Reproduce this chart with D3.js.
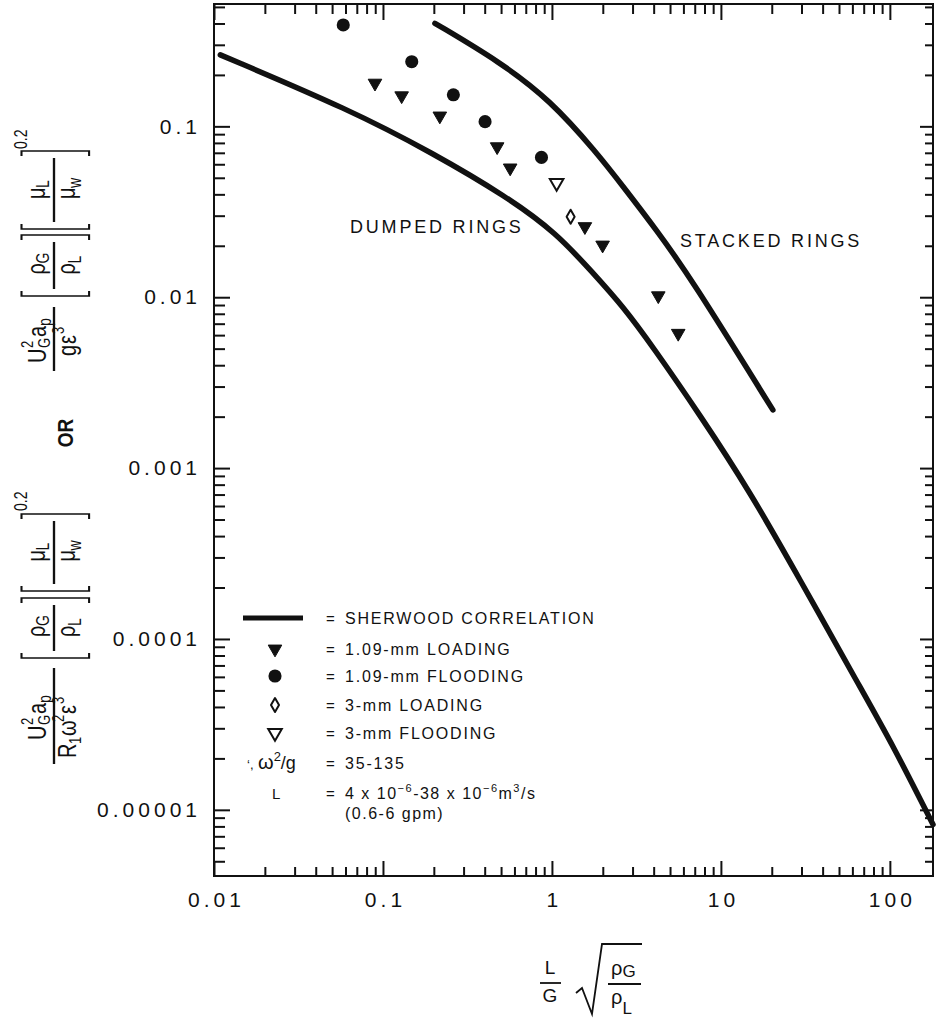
<!DOCTYPE html>
<html>
<head>
<meta charset="utf-8">
<script src="https://cdn.jsdelivr.net/npm/d3@7"></script>
<style>
  body { margin: 0; background: #fff; }
  text { font-family: 'Liberation Sans', Arial, sans-serif; fill: #111; }
</style>
</head>
<body>
<script>
var xTickValues = [0.01, 0.1, 1, 10, 100],
    xTickLabels = ['0.01', '0.1', '1', '10', '100'],
    yTickValues = [0.1, 0.01, 0.001, 0.0001, 0.00001],
    yTickLabels = ['0.1', '0.01', '0.001', '0.0001', '0.00001'];

// Sherwood correlation
var dumpedX = [0.0109, 0.0638, 0.198, 0.540, 1.066, 1.756, 2.64, 3.96, 7.51, 14.9, 29.4, 66.5, 104, 180],
    dumpedY = [0.262, 0.125, 0.0696, 0.0388, 0.0237, 0.0138, 0.00881, 0.00512, 0.00205, 0.000725, 0.000222, 0.0000524, 0.0000240, 0.0000082];
var stackedX = [0.203, 0.493, 0.973, 1.85, 2.64, 4.16, 6.56, 20.3],
    stackedY = [0.401, 0.238, 0.143, 0.0698, 0.0444, 0.0247, 0.0132, 0.00219];

// measured points
var load109X = [0.0897, 0.129, 0.217, 0.474, 0.566, 1.567, 1.995, 4.26, 5.59],
    load109Y = [0.179, 0.151, 0.115, 0.076, 0.0571, 0.0259, 0.0202, 0.0102, 0.00615];
var flood109X = [0.0582, 0.148, 0.261, 0.402, 0.867],
    flood109Y = [0.392, 0.239, 0.153, 0.1065, 0.0658];
var load3X = [1.29], load3Y = [0.0296];
var flood3X = [1.066], flood3Y = [0.0466];

var legendLabels = ['SHERWOOD CORRELATION', '1.09-mm LOADING', '1.09-mm FLOODING', '3-mm LOADING', '3-mm FLOODING'];

var W = 937, H = 1024,
    INK = '#111';

var svg = d3.select('body').append('svg')
    .attr('width', W)
    .attr('height', H);

var x = d3.scaleLog().domain([0.01, 180]).range([214, 933]),
    y = d3.scaleLog().domain([0.52, 0.0000041]).range([4, 876]);

function zip(a, b) { return a.map(function(d, i) { return [d, b[i]]; }); }

function minorTicks(scale) {
  return scale.ticks().filter(function(d) {
    var l = Math.log10(d);
    return Math.abs(l - Math.round(l)) > 1e-6;
  });
}

function styleAxis(g) {
  g.select('.domain').remove();
  g.selectAll('.tick line').attr('stroke', INK).attr('stroke-width', 2);
  g.attr('font-family', null).attr('font-size', null);
  g.selectAll('.tick text')
    .attr('fill', INK)
    .style('font-size', '21px')
    .style('letter-spacing', '4px');
}

// frame
svg.append('rect')
    .attr('x', 214).attr('y', 4)
    .attr('width', 719).attr('height', 872)
    .attr('fill', 'none')
    .attr('stroke', INK)
    .attr('stroke-width', 2);

// bottom
svg.append('g').attr('transform', 'translate(0,876)')
    .call(d3.axisBottom(x).tickValues(minorTicks(x)).tickSize(-9).tickFormat(''))
    .call(styleAxis);
svg.append('g').attr('transform', 'translate(0,876)')
    .call(d3.axisBottom(x).tickValues(xTickValues).tickSize(-15).tickPadding(16)
      .tickFormat(function(d, i) { return xTickLabels[i]; }))
    .call(styleAxis)
    .selectAll('.tick text').attr('dx', 2);
// top
svg.append('g').attr('transform', 'translate(0,4)')
    .call(d3.axisTop(x).tickValues(minorTicks(x)).tickSize(-10).tickFormat(''))
    .call(styleAxis);
svg.append('g').attr('transform', 'translate(0,4)')
    .call(d3.axisTop(x).tickValues(xTickValues).tickSize(-16).tickFormat(''))
    .call(styleAxis);
// left
svg.append('g').attr('transform', 'translate(214,0)')
    .call(d3.axisLeft(y).tickValues(minorTicks(y)).tickSize(-11).tickFormat(''))
    .call(styleAxis);
svg.append('g').attr('transform', 'translate(214,0)')
    .call(d3.axisLeft(y).tickValues(yTickValues).tickSize(-16).tickPadding(13)
      .tickFormat(function(d, i) { return yTickLabels[i]; }))
    .call(styleAxis);
// right
svg.append('g').attr('transform', 'translate(933,0)')
    .call(d3.axisRight(y).tickValues(minorTicks(y)).tickSize(-8).tickFormat(''))
    .call(styleAxis);
svg.append('g').attr('transform', 'translate(933,0)')
    .call(d3.axisRight(y).tickValues(yTickValues).tickSize(-13).tickFormat(''))
    .call(styleAxis);

// curves (smoothed through the read points)
var line = d3.line()
    .x(function(d) { return x(d[0]); })
    .y(function(d) { return y(d[1]); })
    .curve(d3.curveBasis);

[zip(dumpedX, dumpedY), zip(stackedX, stackedY)].forEach(function(pts) {
  svg.append('path')
      .attr('d', line(pts))
      .attr('fill', 'none')
      .attr('stroke', INK)
      .attr('stroke-width', 5.5)
      .attr('stroke-linecap', 'round');
});

// point symbols
var triDown = d3.symbol().type(d3.symbolTriangle).size(80),
    dot = d3.symbol().type(d3.symbolCircle).size(135);

function drawTri(g, cx, cy, filled) {
  g.append('path')
      .attr('d', triDown())
      .attr('transform', 'translate(' + cx + ',' + cy + ') rotate(180)')
      .attr('fill', filled ? INK : '#fff')
      .attr('stroke', INK)
      .attr('stroke-width', filled ? 1 : 2);
}
function drawDot(g, cx, cy) {
  g.append('path').attr('d', dot()).attr('transform', 'translate(' + cx + ',' + cy + ')').attr('fill', INK);
}
function drawDiamond(g, cx, cy) {
  g.append('path')
      .attr('d', 'M0,-7 L4,0 L0,7 L-4,0 Z')
      .attr('transform', 'translate(' + cx + ',' + cy + ')')
      .attr('fill', 'none')
      .attr('stroke', INK)
      .attr('stroke-width', 2)
      .attr('stroke-linejoin', 'round');
}

var marks = svg.append('g');
zip(load109X, load109Y).forEach(function(d) { drawTri(marks, x(d[0]), y(d[1]), true); });
zip(flood109X, flood109Y).forEach(function(d) { drawDot(marks, x(d[0]), y(d[1])); });
zip(load3X, load3Y).forEach(function(d) { drawDiamond(marks, x(d[0]), y(d[1])); });
zip(flood3X, flood3Y).forEach(function(d) { drawTri(marks, x(d[0]), y(d[1]), false); });

// curve labels
function txt(g, s, tx, ty, size, anchor) {
  return g.append('text')
      .attr('x', tx).attr('y', ty)
      .attr('font-size', size)
      .attr('text-anchor', anchor || 'start')
      .text(s);
}
txt(svg, 'DUMPED RINGS', 350, 233, 18).style('letter-spacing', '2.8px');
txt(svg, 'STACKED RINGS', 680, 247, 18).style('letter-spacing', '2.8px');

// legend
var legend = svg.append('g');
var rowY = [618, 649, 676, 705, 733];
legend.append('line')
    .attr('x1', 243).attr('x2', 303).attr('y1', rowY[0]).attr('y2', rowY[0])
    .attr('stroke', INK).attr('stroke-width', 5);
drawTri(legend, 275, rowY[1], true);
drawDot(legend, 275, rowY[2]);
drawDiamond(legend, 275, rowY[3]);
drawTri(legend, 275, rowY[4], false);
legendLabels.forEach(function(s, i) {
  txt(legend, '=', 326, rowY[i] + 6, 15);
  txt(legend, s, 345, rowY[i] + 6, 16).style('letter-spacing', '1.8px');
});
txt(legend, '\u2018,', 247, 769, 13);
var om = txt(legend, '\u03C9', 258, 769, 20);
om.append('tspan').attr('font-size', 13).attr('dy', -8).text('2');
om.append('tspan').attr('dy', 8).attr('font-size', 18).text('/g');
txt(legend, '=', 326, 769, 15);
txt(legend, '35-135', 345, 769, 16).style('letter-spacing', '1.8px');
txt(legend, 'L', 272, 799, 15);
txt(legend, '=', 326, 799, 15);
var lt = txt(legend, '4 x 10', 345, 799, 16).style('letter-spacing', '1.5px');
lt.append('tspan').attr('font-size', 11).attr('dy', -7).text('\u22126');
lt.append('tspan').attr('dy', 7).text('-38 x 10');
lt.append('tspan').attr('font-size', 11).attr('dy', -7).text('\u22126');
lt.append('tspan').attr('dy', 7).text('m');
lt.append('tspan').attr('font-size', 11).attr('dy', -7).text('3');
lt.append('tspan').attr('dy', 7).text('/s');
txt(legend, '(0.6-6 gpm)', 345, 819, 16).style('letter-spacing', '1.5px');

// x axis title: L/G sqrt(rhoG/rhoL)
var xt = svg.append('g');
function bar(g, x1, x2, yy) {
  g.append('line').attr('x1', x1).attr('x2', x2).attr('y1', yy).attr('y2', yy)
      .attr('stroke', INK).attr('stroke-width', 1.8);
}
txt(xt, 'L', 550, 974, 19, 'middle');
bar(xt, 540, 561, 983);
txt(xt, 'G', 550, 1002, 19, 'middle');
xt.append('path')
    .attr('d', 'M576,993 L582,988 L592,1014 L602,944 L642,944')
    .attr('fill', 'none').attr('stroke', INK).attr('stroke-width', 1.8);
var ng = txt(xt, '\u03C1', 611, 975, 20);
ng.append('tspan').attr('font-size', 17).attr('dy', 2).text('G');
bar(xt, 608, 641, 984);
var nl = txt(xt, '\u03C1', 611, 1004, 20);
nl.append('tspan').attr('font-size', 17).attr('dy', 10).text('L');

// y axis title, two rotated formulas joined by OR
// (local frame: x runs up the page, y to the right; glyphs stretched across)
function sym(g, s, tx, ty, size) { return txt(g, s, tx, ty, size); }
function bracket(g, x0, x1, top, bot) {
  g.append('path')
      .attr('d', 'M' + (x0 + 5) + ',' + top + 'H' + x0 + 'V' + bot + 'H' + (x0 + 5) +
                 'M' + (x1 - 5) + ',' + top + 'H' + x1 + 'V' + bot + 'H' + (x1 - 5))
      .attr('fill', 'none').attr('stroke', INK).attr('stroke-width', 1.6);
}
function ratio(g, x0, x1, a, sa, b, sb) {
  bracket(g, x0, x1, -25, 27);
  bar(g, x0 + 7, x1 - 7, 0);
  var c = (x0 + x1) / 2 - 9;
  sym(g, a, c, -7, 20);
  sym(g, sa, c + 11, -4, 14);
  sym(g, b, c, 16, 20);
  sym(g, sb, c + 11, 21, 14);
}
function numerator(g, x0) {
  sym(g, 'U', x0, -6, 20);
  sym(g, '2', x0 + 15, -16, 13);
  sym(g, 'G', x0 + 15, -3, 13);
  sym(g, 'a', x0 + 26, -6, 20);
  sym(g, 'p', x0 + 37, -2, 14);
}

var f1 = svg.append('g').attr('transform', 'translate(54,371) rotate(-90) scale(1,1.3)');
bar(f1, 0, 64, 0);
numerator(f1, 8);
sym(f1, 'g', 15, 17, 20);
sym(f1, '\u03B5', 27, 17, 20);
sym(f1, '3', 37, 8, 13);
ratio(f1, 75, 136, '\u03C1', 'G', '\u03C1', 'L');
ratio(f1, 142, 220, '\u03BC', 'L', '\u03BC', 'w');
sym(f1, '0.2', 222, -21, 14);

var orTxt = svg.append('g').attr('transform', 'translate(73,433) rotate(-90) scale(1,1.2)');
txt(orTxt, 'OR', 0, 0, 19, 'middle').attr('font-weight', 'bold');

var f2 = svg.append('g').attr('transform', 'translate(54,764) rotate(-90) scale(1,1.3)');
bar(f2, 0, 96, 0);
numerator(f2, 24);
sym(f2, 'R', 6, 17, 20);
sym(f2, '1', 20, 21, 13);
sym(f2, '\u03C9', 28, 17, 20);
sym(f2, '2', 42, 8, 13);
sym(f2, '\u03B5', 50, 17, 20);
sym(f2, '3', 60, 8, 13);
ratio(f2, 106, 166, '\u03C1', 'G', '\u03C1', 'L');
ratio(f2, 173, 250, '\u03BC', 'L', '\u03BC', 'w');
sym(f2, '0.2', 253, -21, 14);
</script>
</body>
</html>
